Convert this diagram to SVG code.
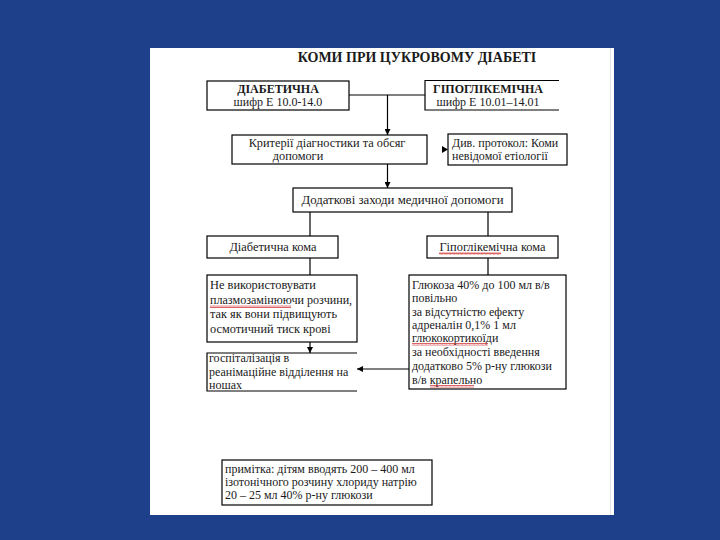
<svg xmlns="http://www.w3.org/2000/svg" width="720" height="540" viewBox="0 0 720 540">
<defs>
<style>
.box{fill:#fff;stroke:#000;stroke-width:1.2}
.open{fill:none;stroke:#000;stroke-width:1.2}
.ln{fill:none;stroke:#000;stroke-width:1.2}
text{font-family:'Liberation Serif','DejaVu Serif',serif;font-size:12px;fill:#1a1a1a}
.c{text-anchor:middle}
.b{font-weight:bold}
.sq{fill:url(#wave)}
</style>
<marker id="ah" viewBox="0 0 10 10" refX="10" refY="5" markerWidth="6" markerHeight="6" orient="auto" markerUnits="userSpaceOnUse">
<path d="M0,0 L10,5 L0,10 z" fill="#000"/>
</marker>
<pattern id="wave" width="4" height="3" patternUnits="userSpaceOnUse">
<path d="M0,2.5 L1,0.5 L2,2.5 L3,0.5 L4,2.5" fill="none" stroke="#d02020" stroke-width="0.7"/>
</pattern>
</defs>
<rect x="0" y="0" width="720" height="540" fill="#1e3f8a"/>
<rect x="150" y="48" width="464" height="467" fill="#fff"/>
<line x1="610.500" y1="48" x2="610.500" y2="515" stroke="#e6e6e6" stroke-width="1"/>
<g font-family="'Liberation Serif', 'DejaVu Serif', serif">
<text x="417" y="62" class="c b" style="font-size:14px">КОМИ ПРИ ЦУКРОВОМУ ДІАБЕТІ</text>

<g id="connectors">
<line class="ln" x1="349" y1="95" x2="425" y2="95"/>
<line class="ln" x1="387.500" y1="95" x2="387.500" y2="135" marker-end="url(#ah)"/>
<path d="M442,146 L448,149.500 L442,153 z" fill="#000"/>
<line class="ln" x1="387.500" y1="164" x2="387.500" y2="188" marker-end="url(#ah)"/>
<line class="ln" x1="310" y1="212" x2="310" y2="236"/>
<line class="ln" x1="488" y1="212" x2="488" y2="236"/>
<line class="ln" x1="310" y1="258" x2="310" y2="275"/>
<line class="ln" x1="488" y1="258" x2="488" y2="275"/>
<line class="ln" x1="310" y1="342" x2="310" y2="353" marker-end="url(#ah)"/>
<line class="ln" x1="409" y1="369" x2="357" y2="369" marker-end="url(#ah)"/>
</g>

<g id="diabetic">
<rect class="box" x="207" y="81" width="142" height="29"/>
<text x="278" y="93" class="c b">ДІАБЕТИЧНА</text>
<text x="278" y="106" class="c">шифр Е 10.0-14.0</text>
</g>

<g id="hypoglycemic">
<rect x="425" y="80.500" width="134" height="29.500" fill="#fff"/>
<path class="open" d="M559,80.500 H425 V110 H559"/>
<text x="488" y="93" class="c b">ГІПОГЛІКЕМІЧНА</text>
<text x="488" y="106" class="c">шифр Е 10.01–14.01</text>
</g>

<g id="criteria">
<rect class="box" x="232" y="135" width="195" height="29"/>
<text x="327" y="147" class="c" style="font-size:12.3px">Критерії діагностики та обсяг</text>
<text x="298" y="160" class="c" style="font-size:12.3px">допомоги</text>
</g>

<g id="protocol">
<rect class="box" x="448" y="134" width="119" height="31"/>
<text x="452" y="147">Див. протокол: Коми</text>
<text x="452" y="160">невідомої етіології</text>
</g>

<g id="additional">
<rect class="box" x="293" y="188" width="219" height="24"/>
<text x="402.500" y="204" class="c" style="font-size:12.8px">Додаткові заходи медичної допомоги</text>
</g>

<g id="diabetic-coma">
<rect class="box" x="207" y="236" width="131" height="22"/>
<text x="273" y="251" class="c" style="font-size:12.4px">Діабетична кома</text>
</g>

<g id="hypo-coma">
<rect class="box" x="427" y="236" width="131" height="22"/>
<text x="492.500" y="251" class="c" style="font-size:12.4px">Гіпоглікемічна кома</text>
<rect class="sq" x="439" y="252" width="62" height="3"/>
</g>

<g id="no-plasma">
<rect class="box" x="207" y="275" width="150" height="67"/>
<text x="210" y="289" style="font-size:12.4px">Не використовувати</text>
<text x="210" y="304" style="font-size:12.1px">плазмозамінюючи розчини,</text>
<text x="210" y="318" style="font-size:12.3px">так як вони підвищують</text>
<text x="210" y="333" style="font-size:12.3px">осмотичний тиск крові</text>
<rect class="sq" x="210" y="305" width="81" height="3"/>
</g>

<g id="hospital">
<rect x="207" y="353" width="150" height="38" fill="#fff"/>
<path class="open" d="M357,353 H207 V391 H357"/>
<text x="209" y="362">госпіталізація в</text>
<text x="209" y="376">реанімаційне відділення на</text>
<text x="209" y="389">ношах</text>
</g>

<g id="glucose">
<rect class="box" x="409" y="275" width="157" height="114"/>
<text x="412" y="289">Глюкоза 40% до 100 мл в/в</text>
<text x="412" y="302">повільно</text>
<text x="412" y="316">за відсутністю ефекту</text>
<text x="412" y="329">адреналін 0,1%   1 мл</text>
<text x="412" y="342">глюкокортикоїди</text>
<text x="412" y="356">за необхідності введення</text>
<text x="412" y="370">додатково 5% р-ну глюкози</text>
<text x="412" y="384">в/в крапельно</text>
<rect class="sq" x="412" y="343" width="76" height="3"/>
<rect class="sq" x="430" y="385" width="44" height="3"/>
</g>

<g id="note">
<rect class="box" x="222" y="460" width="210" height="45"/>
<text x="225" y="473">примітка: дітям вводять 200 – 400 мл</text>
<text x="225" y="486">ізотонічного розчину хлориду натрію</text>
<text x="225" y="499">20 – 25 мл 40% р-ну глюкози</text>
</g>
</g>
</svg>
